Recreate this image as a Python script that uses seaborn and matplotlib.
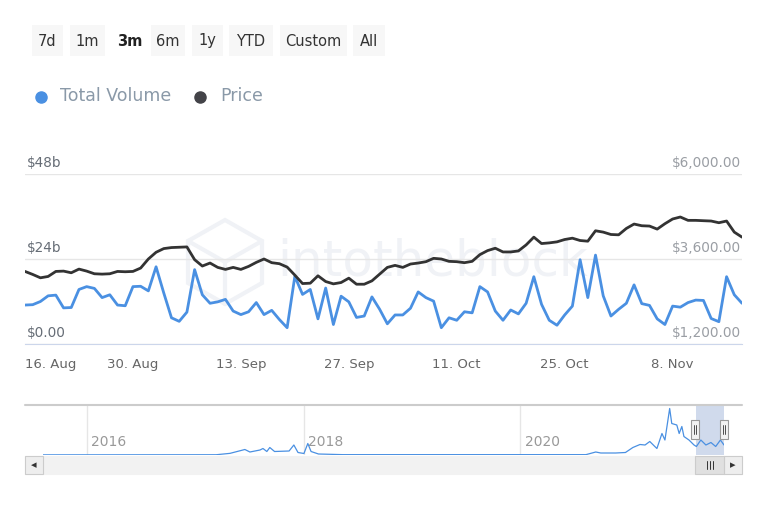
import pandas as pd
import matplotlib
matplotlib.use('Agg')
import matplotlib.pyplot as plt
import matplotlib.transforms as mtrans
from matplotlib.patches import Rectangle, Polygon
from matplotlib.lines import Line2D
import seaborn as sns

sns.set_style('white')
plt.rcParams['font.family'] = ['DejaVu Sans']

# daily data, 16 Aug - 17 Nov
dates = pd.date_range('2021-08-16', '2021-11-17', freq='D')
volume = [11.0, 11.1, 12.0, 13.6, 13.8, 10.2, 10.3, 15.4, 16.2, 15.7,
          13.1, 13.9, 11.0, 10.8, 16.2, 16.3, 15.0, 21.8, 14.4, 7.4,
          6.4, 9.0, 21.0, 13.9, 11.5, 11.9, 12.6, 9.3, 8.3, 9.1,
          11.7, 8.3, 9.5, 6.9, 4.6, 19.1, 14.0, 15.4, 7.1, 15.8,
          5.5, 13.5, 11.9, 7.5, 7.9, 13.3, 9.8, 5.7, 8.2, 8.2,
          10.1, 14.7, 13.1, 12.1, 4.6, 7.4, 6.7, 9.1, 8.8, 16.2,
          14.7, 9.3, 6.7, 9.6, 8.5, 11.5, 19.0, 11.2, 6.7, 5.3,
          8.2, 10.7, 23.8, 13.1, 25.1, 13.6, 7.9, 9.8, 11.5, 16.7,
          11.4, 10.9, 7.1, 5.5, 10.7, 10.4, 11.7, 12.4, 12.3, 7.2,
          6.3, 19.0, 13.9, 11.5]  # $b
price = [3249, 3164, 3069, 3107, 3249, 3258, 3211, 3315, 3258, 3183,
         3173, 3183, 3249, 3240, 3249, 3344, 3600, 3790, 3894, 3923,
         3932, 3941, 3581, 3401, 3486, 3363, 3306, 3363, 3306, 3391,
         3505, 3600, 3496, 3467, 3372, 3145, 2907, 2917, 3126, 2964,
         2898, 2936, 3059, 2888, 2888, 2983, 3173, 3363, 3420, 3363,
         3458, 3486, 3524, 3619, 3600, 3534, 3524, 3496, 3534, 3723,
         3837, 3904, 3799, 3799, 3828, 3998, 4217, 4036, 4055, 4084,
         4150, 4188, 4122, 4103, 4397, 4359, 4292, 4283, 4463, 4587,
         4539, 4530, 4444, 4596, 4729, 4786, 4691, 4691, 4681, 4672,
         4624, 4672, 4359, 4217]

# navigator: long history of total volume (grouped, rough read)
nav_dates = ['2015-08-07', '2017-03-12', '2017-04-28', '2017-06-17', '2017-07-04',
             '2017-08-07', '2017-08-17', '2017-08-30', '2017-09-09', '2017-09-25',
             '2017-11-13', '2017-11-29', '2017-12-13', '2018-01-02', '2018-01-15',
             '2018-01-26', '2018-02-20', '2018-05-13', '2020-08-09', '2020-09-11',
             '2020-09-28', '2020-11-17', '2020-12-20', '2021-01-14', '2021-02-07',
             '2021-02-24', '2021-03-12', '2021-03-29', '2021-04-05', '2021-04-22',
             '2021-05-02', '2021-05-18', '2021-05-25', '2021-06-11', '2021-06-19',
             '2021-06-28', '2021-07-05', '2021-07-22', '2021-08-08', '2021-08-16',
             '2021-08-31', '2021-09-17', '2021-10-04', '2021-10-20', '2021-11-05',
             '2021-11-17']
nav_volume = [0.3, 0.5, 3.3, 11, 6, 10, 13, 7, 15, 7,
              8, 20, 5, 3, 23, 7, 2, 0.7, 0.7, 6,
              4, 4, 5, 15, 21, 20, 27, 17, 13, 43,
              30, 93, 63, 60, 43, 57, 37, 30, 20, 17,
              30, 20, 25, 17, 30, 20]

left_labels = ['$0.00', '$24b', '$48b']
right_labels = ['$1,200.00', '$3,600.00', '$6,000.00']
vol_ticks = [0, 24, 48]
price_ticks = [1200, 3600, 6000]
buttons = ['7d', '1m', '3m', '6m', '1y', 'YTD', 'Custom', 'All']
years = ['2016', '2018', '2020']

BLUE = '#4a90e2'
DARK = '#333333'
WM = '#f0f2f6'

W, H = 768, 512
def fx(x):
    return x / W
def fy(y):
    return 1 - y / H

fig = plt.figure(figsize=(W / 100, H / 100), dpi=100)
fig.patch.set_facecolor('white')

# range buttons
btn_box = [(32, 63), (70, 105), (111, 148), (151, 185), (192, 223), (229, 273), (280, 347), (353, 385)]
for lab, (x0, x1) in zip(buttons, btn_box):
    if lab != '3m':
        fig.add_artist(Rectangle((fx(x0), fy(56)), fx(x1 - x0), 31 / H,
                                 transform=fig.transFigure, facecolor='#f7f7f7', edgecolor='none'))
    fig.text(fx((x0 + x1) / 2), fy(41), lab, ha='center', va='center', fontsize=10.5,
             color='#222222' if lab == '3m' else '#333333',
             fontweight='bold' if lab == '3m' else 'normal')

# legend
fig.add_artist(Line2D([fx(41)], [fy(97)], marker='o', markersize=8, color=BLUE,
                      transform=fig.transFigure))
fig.text(fx(60), fy(96), 'Total Volume', ha='left', va='center', fontsize=12.5, color='#8a99a8')
fig.add_artist(Line2D([fx(200)], [fy(97)], marker='o', markersize=8, color='#434348',
                      transform=fig.transFigure))
fig.text(fx(220), fy(96), 'Price', ha='left', va='center', fontsize=12.5, color='#8a99a8')

# watermark
hexa = [(225, 220), (262, 241), (262, 283), (225, 304), (188, 283), (188, 241)]
fig.add_artist(Polygon([(fx(a), fy(b)) for a, b in hexa], closed=True, fill=False,
                       edgecolor=WM, lw=3, transform=fig.transFigure, zorder=-1))
for a, b in [(188, 241), (262, 241), (225, 304)]:
    fig.add_artist(Line2D([fx(225), fx(a)], [fy(262), fy(b)], color=WM, lw=3,
                          transform=fig.transFigure, zorder=-1))
fig.text(fx(277), fy(262), 'intotheblock', ha='left', va='center', fontsize=36,
         color=WM, zorder=-1)

# main chart
ax = fig.add_axes([fx(25), fy(344), (742 - 25) / W, (344 - 174) / H])
ax.patch.set_visible(False)
sns.lineplot(x=dates, y=volume, ax=ax, color=BLUE, lw=2, zorder=3)
ax.set_ylim(0, 48)
ax.set_xlim(dates[0], dates[-1])
ax.set_yticks(vol_ticks)
ax.set_yticklabels([])
ax.tick_params(axis='y', length=0)
ax.grid(axis='y', color='#e6e6e6', lw=1)
for s in ['top', 'right', 'left']:
    ax.spines[s].set_visible(False)
ax.spines['bottom'].set_color('#ccd6eb')
ax.set_xlabel('')
ax.set_ylabel('')

xt = pd.date_range(dates[0], periods=7, freq='14D')
ax.set_xticks(xt)
ax.set_xticklabels([d.strftime('%-d. %b') for d in xt], fontsize=9.5, color='#666666')
ax.tick_params(axis='x', direction='out', length=7.5, color='#ccd6eb', pad=2.5)
ax.get_xticklabels()[0].set_ha('left')

ax2 = ax.twinx()
ax2.patch.set_visible(False)
sns.lineplot(x=dates, y=price, ax=ax2, color=DARK, lw=2, zorder=3)
ax2.set_ylim(1200, 6000)
ax2.set_yticks([])
ax2.set_ylabel('')
for s in ax2.spines.values():
    s.set_visible(False)

off = mtrans.offset_copy(ax.transData, fig=fig, x=0, y=3, units='points')
for v, lab in zip(vol_ticks, left_labels):
    ax.text(0.003, v, lab, transform=mtrans.blended_transform_factory(ax.transAxes, off),
            ha='left', va='bottom', fontsize=9.8, color='#666d76')
off2 = mtrans.offset_copy(ax2.transData, fig=fig, x=0, y=3, units='points')
for v, lab in zip(price_ticks, right_labels):
    ax2.text(0.999, v, lab, transform=mtrans.blended_transform_factory(ax2.transAxes, off2),
             ha='right', va='bottom', fontsize=9.8, color='#9a9ea4')

# navigator
nav = fig.add_axes([fx(43), fy(455), (724 - 43) / W, 50 / H])
nav.patch.set_visible(False)
for y in years:
    nav.axvline(pd.Timestamp(y + '-01-01'), color='#e6e6e6', lw=1, zorder=1)
sns.lineplot(x=pd.to_datetime(nav_dates), y=nav_volume, ax=nav, color=BLUE, lw=0.9, zorder=3)
nav.axvspan(dates[0], dates[-1], color=(102 / 255, 133 / 255, 194 / 255, 0.3), lw=0, zorder=2)
nav.set_xlim(pd.Timestamp('2015-08-07'), dates[-1])
nav.set_ylim(0, 100)
nav.axis('off')
for y in years:
    nav.text(pd.Timestamp(y + '-01-15'), 0.12, y,
             transform=mtrans.blended_transform_factory(nav.transData, nav.transAxes),
             ha='left', va='bottom', fontsize=10, color='#999999')

fig.add_artist(Line2D([fx(25), fx(742)], [fy(405), fy(405)], color='#cccccc', lw=1.5,
                      transform=fig.transFigure))

# handles
for hx in [695, 724]:
    fig.add_artist(Rectangle((fx(hx - 4), fy(439)), fx(8), 19 / H, transform=fig.transFigure,
                             facecolor='#f2f2f2', edgecolor='#999999', lw=0.8, zorder=5))
    for d in [-1.2, 1.2]:
        fig.add_artist(Line2D([fx(hx + d), fx(hx + d)], [fy(425), fy(434)], color='#333333',
                              lw=0.6, transform=fig.transFigure, zorder=6))

# scrollbar
fig.add_artist(Rectangle((fx(25), fy(474)), fx(717), 18 / H, transform=fig.transFigure,
                         facecolor='#f2f2f2', edgecolor='#f2f2f2', lw=0.8))
for bx in [25, 724]:
    fig.add_artist(Rectangle((fx(bx), fy(474)), fx(18), 18 / H, transform=fig.transFigure,
                             facecolor='#eeeeee', edgecolor='#cccccc', lw=0.8))
fig.text(fx(34), fy(465), '◂', ha='center', va='center', fontsize=8, color='#333333')
fig.text(fx(733), fy(465), '▸', ha='center', va='center', fontsize=8, color='#333333')
fig.add_artist(Rectangle((fx(695), fy(474)), fx(29), 18 / H, transform=fig.transFigure,
                         facecolor='#e0e0e0', edgecolor='#cccccc', lw=0.8))
for gx in [706.5, 709.5, 712.5]:
    fig.add_artist(Line2D([fx(gx), fx(gx)], [fy(461), fy(469)], color='#333333', lw=0.7,
                          transform=fig.transFigure))

fig.savefig('out.png', dpi=100)
